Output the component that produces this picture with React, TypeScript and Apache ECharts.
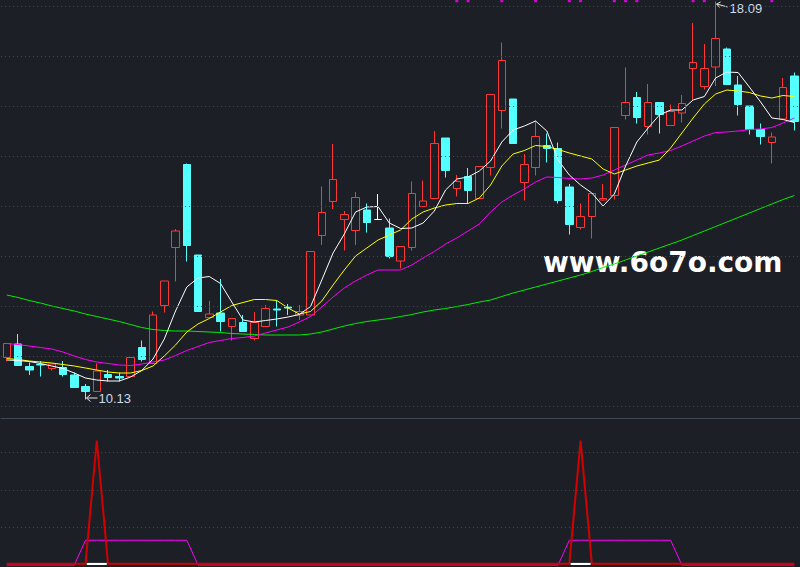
import React, { useEffect, useRef } from "react";
import * as echarts from "echarts";

// ---- data ----
const days = Array.from({ length: 71 }, (_, i) => `D${i + 1}`);

const opens = [10.97,11.24,10.79,10.83,10.75,10.77,10.62,10.39,10.29,10.63,10.59,10.59,11.17,10.85,12.01,13.17,14.83,13.02,11.77,11.86,11.59,11.67,11.35,11.59,11.94,11.98,11.82,11.82,13.41,14.09,13.73,13.51,13.92,13.73,13.56,12.90,13.17,13.99,14.15,15.36,14.35,14.59,14.15,14.77,15.91,16.14,14.47,14.77,15.21,15.15,14.38,13.57,13.79,14.12,14.21,15.81,16.17,15.59,16.07,15.61,15.86,16.75,16.39,16.78,17.14,16.42,16.00,15.53,15.27,15.74,16.60];
const closes = [11.25,10.81,10.72,10.82,10.84,10.63,10.37,10.29,10.70,10.57,10.56,10.97,10.93,11.82,12.50,13.50,13.21,11.89,11.84,11.69,11.75,11.49,11.67,11.95,11.92,11.96,11.89,13.09,13.87,14.53,13.83,14.17,13.67,13.73,12.99,13.19,14.25,14.10,15.25,14.71,14.49,14.31,14.79,16.23,16.91,15.25,14.83,15.39,15.15,14.11,13.63,13.79,14.25,14.15,15.57,16.07,15.77,16.07,15.83,15.89,16.05,16.87,16.75,17.35,16.43,16.03,15.53,15.39,15.38,16.37,15.69];
const highs = [11.26,11.44,10.87,10.90,10.84,10.90,10.67,10.44,10.85,10.72,10.67,10.97,11.31,11.89,12.50,13.54,14.85,13.02,12.10,12.54,11.75,11.82,11.88,12.02,12.12,12.04,12.02,13.09,14.39,15.24,13.90,14.28,14.05,14.24,13.75,13.19,14.49,14.51,15.50,15.36,14.62,14.76,14.79,16.23,17.27,16.14,15.04,15.71,15.45,15.27,14.44,14.05,14.25,14.44,15.57,16.77,16.28,16.44,16.07,16.03,16.22,17.66,17.24,18.09,17.17,16.60,16.00,15.65,15.47,16.56,16.67];
const lows = [10.89,10.80,10.62,10.59,10.71,10.59,10.37,10.13,10.29,10.49,10.49,10.59,10.89,10.85,11.87,12.49,12.89,11.89,11.77,11.49,11.31,11.49,11.31,11.59,11.59,11.82,11.72,11.82,13.22,13.94,13.11,13.22,13.47,13.72,12.95,12.75,13.11,13.99,14.15,14.57,14.19,14.05,14.15,14.61,15.55,15.25,14.11,14.61,14.87,14.05,13.43,13.53,13.35,14.11,14.13,15.73,15.65,15.43,15.45,15.61,15.67,16.12,16.33,16.40,16.43,15.81,15.43,15.23,14.85,15.74,15.51];

const ma5 = [10.92,10.91,10.89,10.85,10.80,10.75,10.66,10.56,10.52,10.50,10.50,10.58,10.71,10.94,11.34,11.90,12.38,12.56,12.59,12.45,12.08,11.72,11.68,11.71,11.74,11.78,11.83,11.99,12.52,13.06,13.44,13.88,13.98,13.99,13.66,13.55,13.56,13.66,13.90,14.32,14.54,14.58,14.70,14.90,15.28,15.52,15.60,15.70,15.50,14.92,14.62,14.42,14.26,14.00,14.24,14.80,15.28,15.56,15.82,15.92,15.92,16.12,16.19,16.56,16.68,16.67,16.38,16.08,15.76,15.73,15.67];
const ma10 = [10.95,10.93,10.90,10.88,10.86,10.83,10.80,10.76,10.72,10.68,10.66,10.66,10.71,10.80,11.00,11.22,11.48,11.64,11.75,11.88,12.01,12.07,12.13,12.13,12.11,11.96,11.84,11.89,12.10,12.42,12.72,13.00,13.16,13.32,13.42,13.52,13.74,13.88,13.96,14.02,14.05,14.05,14.16,14.42,14.80,15.04,15.11,15.21,15.19,15.13,15.06,15.00,14.94,14.74,14.64,14.72,14.80,14.86,14.92,15.16,15.46,15.76,16.04,16.24,16.32,16.30,16.27,16.20,16.16,16.21,16.19];
const ma20 = [11.25,11.23,11.20,11.17,11.14,11.08,11.00,10.93,10.88,10.85,10.82,10.81,10.84,10.88,10.92,11.01,11.11,11.19,11.27,11.31,11.35,11.37,11.40,11.46,11.52,11.58,11.68,11.79,11.98,12.18,12.36,12.50,12.62,12.72,12.72,12.72,12.82,12.96,13.09,13.24,13.36,13.50,13.64,13.88,14.08,14.22,14.34,14.48,14.58,14.57,14.55,14.54,14.56,14.62,14.72,14.82,14.92,15.02,15.06,15.11,15.20,15.30,15.40,15.47,15.48,15.50,15.53,15.54,15.57,15.66,15.76];
const ma60 = [12.22,12.17,12.11,12.06,12.00,11.95,11.90,11.84,11.79,11.74,11.69,11.63,11.57,11.53,11.51,11.50,11.50,11.49,11.48,11.47,11.45,11.44,11.43,11.42,11.42,11.42,11.42,11.44,11.48,11.54,11.60,11.65,11.69,11.72,11.75,11.79,11.83,11.88,11.92,11.95,11.99,12.03,12.08,12.12,12.19,12.26,12.32,12.38,12.44,12.50,12.56,12.62,12.69,12.77,12.84,12.92,13.00,13.08,13.16,13.24,13.32,13.41,13.50,13.59,13.68,13.77,13.86,13.95,14.04,14.13,14.21];

// magenta markers at the top edge
const topSignalDays = [40, 41, 44, 47, 50, 51, 54, 55, 56, 61, 62, 68];
const topSignalLevel = 18.1;

// lower indicator panel
const spikeDays = [8, 51];
const spikeValue = 83;
const redBase = 0.8;
const bandRanges = [[7, 16], [50, 59]];
const bandValue = 16.5;
const whiteBarValue = 1.4;

const priceGridLevels = [10, 11, 12, 13, 14, 15, 16, 17, 18];
const lowerGridLevels = [25, 50, 75];

const BG = "#1c1f26";
const RED = "#ff3636";
const CYAN = "#54ffff";
const GRIDC = "#474c56";

export default function App() {
  const ref = useRef<HTMLDivElement>(null);

  useEffect(() => {
    if (!ref.current) return;
    const chart = echarts.init(ref.current, null, { renderer: "svg" });

    const kData = days.map((_, i) => [opens[i], closes[i], lows[i], highs[i]]);
    const redLine = days.map((_, i) => (spikeDays.includes(i) ? spikeValue : redBase));
    const bandLine = days.map((_, i) =>
      bandRanges.some(([a, b]) => i >= a && i <= b) ? bandValue : 0
    );
    const whiteBars = days.map((_, i) => (spikeDays.includes(i) ? whiteBarValue : null));
    const topDots = topSignalDays.map((d) => [d, topSignalLevel]);

    const maLine = (data: number[], color: string) => ({
      type: "line",
      xAxisIndex: 0,
      yAxisIndex: 0,
      data,
      symbol: "none",
      smooth: false,
      z: 3,
      lineStyle: { color, width: 1 },
      silent: true,
    });

    chart.setOption({
      animation: false,
      backgroundColor: BG,
      grid: [
        { left: 1.125, width: 798.875, top: 0, height: 418 },
        { left: 1.125, width: 798.875, top: 415, height: 150 },
      ],
      xAxis: [
        {
          type: "category",
          gridIndex: 0,
          data: days,
          boundaryGap: true,
          axisLine: { show: true, lineStyle: { color: "#3e4855", width: 1 } },
          axisTick: { show: false },
          axisLabel: { show: false },
          splitLine: { show: false },
        },
        {
          type: "category",
          gridIndex: 1,
          data: days,
          boundaryGap: true,
          axisLine: { show: false },
          axisTick: { show: false },
          axisLabel: { show: false },
          splitLine: { show: false },
        },
      ],
      yAxis: [
        {
          type: "value",
          gridIndex: 0,
          min: 9.76,
          max: 18.12,
          axisLine: { show: false },
          axisTick: { show: false },
          axisLabel: { show: false },
          splitLine: { show: false },
        },
        {
          type: "value",
          gridIndex: 1,
          min: 0,
          max: 100,
          axisLine: { show: false },
          axisTick: { show: false },
          axisLabel: { show: false },
          splitLine: { show: false },
        },
      ],
      series: [
        {
          type: "line",
          xAxisIndex: 0,
          yAxisIndex: 0,
          data: days.map(() => null),
          z: 1,
          silent: true,
          markLine: {
            silent: true,
            symbol: ["none", "none"],
            label: { show: false },
            lineStyle: { color: GRIDC, type: [1, 3], width: 1 },
            data: priceGridLevels.map((v) => ({ yAxis: v })),
          },
        },
        {
          type: "candlestick",
          xAxisIndex: 0,
          yAxisIndex: 0,
          data: kData,
          barWidth: 8,
          z: 2,
          itemStyle: {
            color: "rgba(0,0,0,0)",
            color0: CYAN,
            borderColor: RED,
            borderColor0: CYAN,
            borderColorDoji: "#ffffff",
            borderWidth: 1,
          },
        },
        maLine(ma60, "#00ee00"),
        maLine(ma20, "#ff00ff"),
        maLine(ma10, "#ffff00"),
        maLine(ma5, "#ffffff"),
        {
          type: "scatter",
          xAxisIndex: 0,
          yAxisIndex: 0,
          data: topDots,
          symbol: "rect",
          symbolSize: [3, 2.5],
          itemStyle: { color: "#ff00ff" },
          z: 4,
          silent: true,
        },
        {
          type: "line",
          xAxisIndex: 1,
          yAxisIndex: 1,
          data: days.map(() => null),
          z: 1,
          silent: true,
          markLine: {
            silent: true,
            symbol: ["none", "none"],
            label: { show: false },
            lineStyle: { color: GRIDC, type: [1, 3], width: 1 },
            data: lowerGridLevels.map((v) => ({ yAxis: v })),
          },
        },
        {
          type: "line",
          xAxisIndex: 1,
          yAxisIndex: 1,
          data: bandLine,
          symbol: "none",
          clip: false,
          z: 2,
          lineStyle: { color: "#ff00ff", width: 1 },
          silent: true,
        },
        {
          type: "line",
          xAxisIndex: 1,
          yAxisIndex: 1,
          data: redLine,
          symbol: "none",
          clip: false,
          z: 3,
          lineStyle: { color: "#d40000", width: 2 },
          silent: true,
        },
        {
          type: "bar",
          xAxisIndex: 1,
          yAxisIndex: 1,
          data: whiteBars,
          barWidth: 20,
          z: 4,
          itemStyle: { color: "#ffffff" },
          silent: true,
        },
      ],
    });

    // annotations for the extreme prices
    let hiIdx = 0;
    let loIdx = 0;
    highs.forEach((v, i) => { if (v > highs[hiIdx]) hiIdx = i; });
    lows.forEach((v, i) => { if (v < lows[loIdx]) loIdx = i; });
    const hp = chart.convertToPixel({ gridIndex: 0 }, [hiIdx, highs[hiIdx]]) as number[];
    const lp = chart.convertToPixel({ gridIndex: 0 }, [loIdx, lows[loIdx]]) as number[];
    const arrowC = "#e4e4e4";
    const textC = "#cddbeb";

    chart.setOption({
      graphic: [
        {
          type: "line",
          shape: { x1: lp[0] + 1, y1: lp[1] - 1.5, x2: lp[0] + 12, y2: lp[1] - 1.5 },
          style: { stroke: arrowC, lineWidth: 1 },
          silent: true,
        },
        {
          type: "polyline",
          shape: { points: [[lp[0] + 5, lp[1] - 5], [lp[0] + 1, lp[1] - 1.5], [lp[0] + 5, lp[1] + 2]] },
          style: { stroke: arrowC, fill: null, lineWidth: 1 },
          silent: true,
        },
        {
          type: "text",
          x: lp[0] + 13,
          y: lp[1] - 1.5,
          style: {
            text: lows[loIdx].toFixed(2),
            fill: textC,
            fontSize: 13,
            fontFamily: "Liberation Sans",
            align: "left",
            verticalAlign: "middle",
          },
          silent: true,
        },
        {
          type: "line",
          shape: { x1: hp[0] + 1, y1: hp[1] + 2.5, x2: hp[0] + 12, y2: hp[1] + 5.5 },
          style: { stroke: arrowC, lineWidth: 1 },
          silent: true,
        },
        {
          type: "polyline",
          shape: { points: [[hp[0] + 5, hp[1] + 0.5], [hp[0] + 1, hp[1] + 2.5], [hp[0] + 4, hp[1] + 6]] },
          style: { stroke: arrowC, fill: null, lineWidth: 1 },
          silent: true,
        },
        {
          type: "text",
          x: hp[0] + 14,
          y: hp[1] + 6.5,
          style: {
            text: highs[hiIdx].toFixed(2),
            fill: textC,
            fontSize: 13,
            fontFamily: "Liberation Sans",
            align: "left",
            verticalAlign: "middle",
          },
          silent: true,
        },
        {
          type: "text",
          x: 543,
          y: 262.5,
          style: {
            text: "www.6o7o.com",
            fill: "#ffffff",
            fontSize: 28,
            fontWeight: "bold",
            fontFamily: "DejaVu Sans",
            align: "left",
            verticalAlign: "middle",
          },
          silent: true,
        },
      ],
    });

    return () => chart.dispose();
  }, []);

  return (
    <div
      ref={ref}
      style={{ position: "fixed", left: 0, top: 0, width: 800, height: 567 }}
    />
  );
}
